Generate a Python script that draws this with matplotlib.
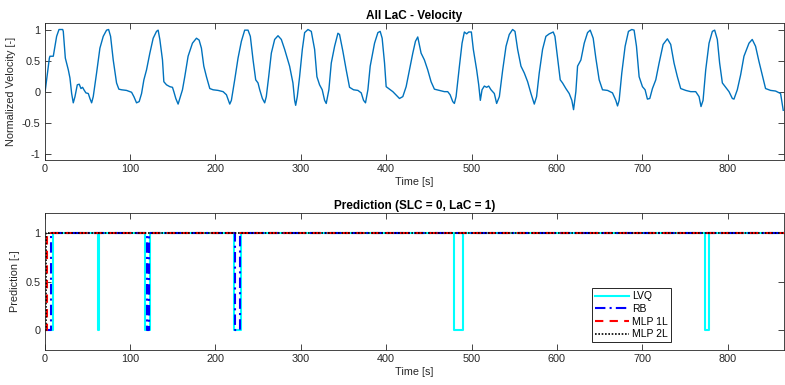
import matplotlib
matplotlib.use("Agg")
import matplotlib.pyplot as plt
import numpy as np

plt.rcParams['font.family'] = ['Liberation Sans', 'DejaVu Sans']

vel_t = [0, 0.8, 5.5, 6.2, 10.1, 14.0, 16.8, 21.1, 21.8, 24.2, 27.7, 29.6, 31.6, 33.5, 35.5,
         38.2, 40.5, 42.5, 44.4, 46.0, 48.3, 51.1, 53.0, 55.0, 56.9, 60.8, 64.7, 68.6, 72.5,
         74.9, 77.2, 80.3, 84.2, 86.9, 90.1, 95.9, 101.8, 104.5, 107.6, 110.7, 113.5, 116.2,
         119.3, 123.2, 127.1, 131.0, 132.9, 134.9, 138.0, 139.6, 142.7, 146.6, 149.7, 151.3,
         153.6, 156.3, 158.3, 161.4, 164.1, 168.0, 173.1, 177.8, 180.9, 183.6, 186.4, 189.5,
         193.4, 197.3, 203.1, 209.0, 212.9, 216.8, 218.7, 222.6, 226.5, 230.4, 234.3, 238.2,
         240.9, 244.1, 247.2, 249.9, 251.9, 255.0, 257.7, 259.6, 262.4, 265.5, 269.4, 273.3,
         277.2, 281.1, 286.9, 290.8, 292.8, 294.0, 295.9, 298.6, 301.8, 304.5, 308.4, 312.3,
         316.2, 318.9, 322.0, 325.1, 327.9, 329.8, 332.9, 335.7, 339.6, 343.5, 345.4, 349.3,
         353.2, 357.1, 361.8, 366.9, 370.8, 373.5, 375.8, 378.6, 381.3, 386.4, 390.3, 393.0,
         395.3, 398.1, 400.0, 403.9, 407.8, 415.6, 419.5, 423.4, 427.3, 431.2, 434.3, 437.0,
         440.9, 444.8, 448.7, 452.6, 456.5, 462.4, 468.2, 472.1, 474.9, 478.0, 479.9, 481.9,
         485.8, 488.9, 491.6, 494.3, 496.7, 499.8, 502.1, 506.0, 508.4, 510.3, 512.3, 515.0,
         517.7, 520.1, 522.8, 526.7, 529.4, 532.6, 536.5, 540.4, 544.2, 548.1, 550.9, 554.0,
         557.9, 561.8, 565.7, 569.6, 573.5, 576.2, 579.3, 583.2, 587.1, 591.0, 595.7, 597.7,
         600.8, 603.9, 606.6, 610.5, 614.4, 617.5, 619.5, 622.2, 624.2, 628.1, 632.0, 635.9,
         639.0, 642.5, 645.6, 649.5, 653.4, 659.3, 665.1, 669.0, 671.0, 672.9, 676.0, 679.9,
         683.8, 687.7, 690.4, 693.2, 696.3, 700.2, 703.3, 706.0, 708.8, 711.9, 715.8, 719.7,
         724.4, 729.4, 733.3, 737.2, 741.1, 745.0, 750.9, 756.7, 762.6, 766.5, 768.8, 771.2,
         774.3, 778.2, 782.1, 784.8, 787.9, 790.6, 793.8, 797.7, 801.6, 805.5, 807.4, 811.3,
         815.2, 819.1, 825.0, 828.8, 832.7, 836.6, 840.5, 844.4, 850.3, 856.1, 862.0, 865.1]
vel_v = [0, 0.03, 0.54, 0.57, 0.57, 0.89, 1.0, 1.0, 0.97, 0.54, 0.35, 0.22, -0.03, -0.18, -0.08,
         0.11, 0.12, 0.05, 0.07, 0.03, -0.02, -0.03, -0.11, -0.18, -0.08, 0.30, 0.70, 0.89, 0.99,
         1.0, 0.89, 0.51, 0.14, 0.04, 0.03, 0.02, -0.01, -0.08, -0.18, -0.16, -0.03, 0.19,
         0.35, 0.62, 0.86, 0.97, 0.99, 0.84, 0.51, 0.16, 0.11, 0.08, 0.07, 0.0,
         -0.11, -0.20, -0.11, 0.03, 0.24, 0.57, 0.78, 0.86, 0.83, 0.70, 0.41, 0.24,
         0.05, 0.03, 0.02, 0.0, -0.05, -0.20, -0.14, 0.19, 0.54, 0.81, 0.99, 0.99,
         0.89, 0.51, 0.19, 0.14, 0.03, -0.11, -0.18, -0.08, 0.24, 0.62, 0.84, 0.90,
         0.84, 0.68, 0.41, 0.14, -0.14, -0.22, -0.08, 0.24, 0.68, 0.95, 1.0, 0.97,
         0.68, 0.24, 0.11, 0.03, -0.14, -0.19, 0.03, 0.46, 0.73, 0.94, 0.92, 0.65,
         0.35, 0.07, 0.03, 0.02, -0.02, -0.14, -0.18, 0.03, 0.41, 0.78, 0.95, 0.97,
         0.86, 0.46, 0.08, 0.04, 0.0, -0.11, -0.08, 0.08, 0.35, 0.62, 0.81, 0.88,
         0.62, 0.51, 0.35, 0.16, 0.04, 0.02, 0.0, 0.0, -0.05, -0.16, -0.19, -0.08,
         0.41, 0.78, 0.96, 0.93, 0.96, 0.96, 0.68, 0.35, 0.11, -0.14, 0.03, 0.09,
         0.07, 0.09, 0.03, -0.03, -0.19, -0.08, 0.35, 0.73, 0.92, 1.0, 0.97, 0.68,
         0.41, 0.30, 0.16, -0.03, -0.20, -0.08, 0.30, 0.68, 0.89, 0.93, 0.96, 0.89,
         0.54, 0.19, 0.14, 0.05, -0.03, -0.14, -0.29, 0.0, 0.41, 0.51, 0.78, 0.95,
         0.99, 0.86, 0.54, 0.19, 0.03, 0.02, -0.02, -0.14, -0.23, -0.14, 0.30, 0.73,
         0.97, 1.0, 0.99, 0.73, 0.24, 0.08, 0.03, -0.12, -0.11, 0.05, 0.19, 0.46,
         0.76, 0.85, 0.76, 0.46, 0.24, 0.05, 0.02, 0.0, 0.0, -0.08, -0.24, -0.14,
         0.35, 0.78, 0.97, 0.99, 0.84, 0.46, 0.14, 0.07, 0.0, -0.11, -0.12, 0.03,
         0.27, 0.57, 0.78, 0.84, 0.73, 0.49, 0.27, 0.05, 0.02, 0.01, -0.03, -0.30]

# ---- Bottom panel: predictions (change points, step-post) ----
t_end = 866
lvq_t = [0, 10, 62, 64, 117.5, 123.3, 221.5, 230, 479.7, 490.2, 774, 778, t_end]
lvq_v = [0, 1, 0, 1, 0, 1, 0, 1, 0, 1, 0, 1, 1]
rb_t = [0, 8, 119.4, 122.2, 223, 228.5, t_end]
rb_v = [0, 1, 0, 1, 0, 1, 1]
mlp1_t = [0, 3, t_end]
mlp1_v = [0, 1, 1]
mlp2_t = [0, 1.5, t_end]
mlp2_v = [0, 1, 1]

xticks = [0, 100, 200, 300, 400, 500, 600, 700, 800]
yticks_top = [-1, -0.5, 0, 0.5, 1]
yticks_bot = [0, 0.5, 1]

W, H = 785, 385
fig = plt.figure(figsize=(W / 100, H / 100), dpi=100)
left = 44.67 / W
width = (784 - 44.67) / W
ax1 = fig.add_axes([left, 1 - 160 / H, width, (160 - 23.3) / H])
ax2 = fig.add_axes([left, 1 - 350 / H, width, (350 - 213.3) / H])

dark = '#262626'
fs = 7.8

ax1.plot(vel_t, vel_v, color='#0072BD', lw=1.0)
ax1.set_ylim(-1.1, 1.1)
ax1.set_yticks(yticks_top)
ax1.set_yticklabels(['-1', '-0.5', '0', '0.5', '1'])
ax1.set_ylabel('Normalized Velocity [-]', fontsize=fs, color=dark, labelpad=4)
ax1.set_title('All LaC - Velocity', fontsize=8.5, fontweight='bold', pad=3)

ax2.plot(lvq_t, lvq_v, color='cyan', lw=1.5, drawstyle='steps-post', label='LVQ')
ax2.plot(rb_t, rb_v, color='blue', lw=1.5, ls=(0, (5, 2, 1, 2)), drawstyle='steps-post', label='RB')
ax2.plot(mlp1_t, mlp1_v, color='red', lw=1.5, ls=(0, (4, 3)), drawstyle='steps-post', label='MLP 1L')
ax2.plot(mlp2_t, mlp2_v, color='black', lw=1.2, ls=(0, (1, 1)), drawstyle='steps-post', label='MLP 2L')
ax2.set_ylim(-0.2, 1.2)
ax2.set_yticks(yticks_bot)
ax2.set_yticklabels(['0', '0.5', '1'])
ax2.set_ylabel('Prediction [-]', fontsize=fs, color=dark, labelpad=4)
ax2.set_title('Prediction (SLC = 0, LaC = 1)', fontsize=8.5, fontweight='bold', pad=3)

leg = ax2.legend(loc='upper left', bbox_to_anchor=(592.3 / W, 1 - 288.3 / H),
                 bbox_transform=fig.transFigure, fontsize=fs - 0.3, fancybox=False,
                 framealpha=1, edgecolor=dark, handlelength=3.2, borderpad=0.3,
                 labelspacing=0.25, handletextpad=0.3, borderaxespad=0)
leg.get_frame().set_linewidth(0.7)

for ax in (ax1, ax2):
    ax.set_xlim(0, t_end)
    ax.set_xticks(xticks)
    ax.set_xticklabels([str(x) for x in xticks])
    ax.set_xlabel('Time [s]', fontsize=fs, color=dark, labelpad=2)
    ax.tick_params(direction='in', length=4.3, width=0.6, colors=dark, labelsize=fs,
                   top=True, right=True, pad=3)
    for s in ax.spines.values():
        s.set_color(dark)
        s.set_linewidth(0.6)

fig.savefig('out.png', dpi=100)
